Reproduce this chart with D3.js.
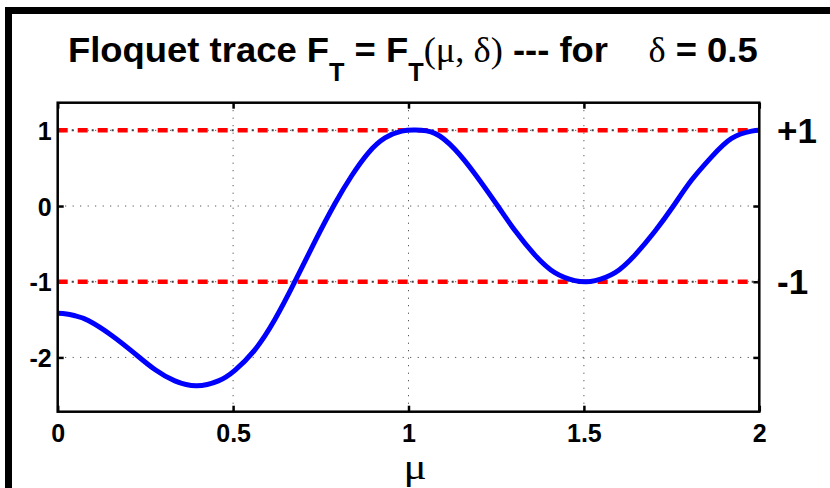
<!DOCTYPE html>
<html><head><meta charset="utf-8">
<script src="https://cdn.jsdelivr.net/npm/d3@7"></script>
<style>
html,body{margin:0;padding:0;background:#fff;}
svg{display:block;}
text{white-space:pre;}
</style></head>
<body>
<script>
// ---- data ----
const mu = [0, 0.025, 0.05, 0.087, 0.154, 0.22, 0.277, 0.334, 0.396, 0.458, 0.505, 0.562, 0.619, 0.676, 0.733, 0.79, 0.838, 0.885, 0.933, 0.981, 1.02, 1.075, 1.132, 1.19, 1.256, 1.303, 1.36, 1.417, 1.474, 1.505, 1.532, 1.589, 1.646, 1.703, 1.755, 1.807, 1.864, 1.921, 1.978, 2];
const FT = [-1.418, -1.426, -1.45, -1.513, -1.71, -1.95, -2.16, -2.31, -2.375, -2.31, -2.17, -1.90, -1.50, -1.0, -0.47, 0.03, 0.40, 0.70, 0.90, 0.99, 1.003, 0.96, 0.75, 0.42, -0.01, -0.32, -0.645, -0.88, -0.985, -1.0, -0.985, -0.88, -0.645, -0.33, 0, 0.343, 0.65, 0.894, 0.99, 1.0];
const xTicks = [0, 0.5, 1, 1.5, 2];
const xTickLabels = ["0", "0.5", "1", "1.5", "2"];
const yTicks = [-2, -1, 0, 1];
const yTickLabels = ["-2", "-1", "0", "1"];
const refLevels = [1, -1];
const refLabels = ["+1", "-1"];
const xDomain = [0, 2];
const yDomain = [-2.717, 1.365];

const W = 830, H = 488;
const svg = d3.select("body").append("svg").attr("width", W).attr("height", H);

// figure frame (top and left edges visible)
svg.append("rect").attr("x", 5).attr("y", 7).attr("width", W - 5).attr("height", 7).attr("fill", "#000");
svg.append("rect").attr("x", 5).attr("y", 7).attr("width", 7).attr("height", H - 7).attr("fill", "#000");

const L = 57.7, R = 759.3, T = 102.7, B = 411.7;
const x = d3.scaleLinear().domain(xDomain).range([L, R]);
const y = d3.scaleLinear().domain(yDomain).range([B, T]);

const sans = "'Liberation Sans', Arial, Helvetica, sans-serif";
const serif = "'Liberation Serif', 'Times New Roman', serif";

// grid
const grid = svg.append("g").attr("stroke", "#333").attr("stroke-width", 1).attr("stroke-dasharray", "1,6.5");
grid.selectAll("line.gy").data(yTicks).join("line")
  .attr("x1", L).attr("x2", R).attr("y1", d => y(d)).attr("y2", d => y(d));
grid.selectAll("line.gx").data(xTicks.slice(1, -1)).join("line")
  .attr("y1", T).attr("y2", B).attr("x1", d => x(d)).attr("x2", d => x(d));

// axes using d3 axes (inward ticks)
const tickLen = 6;
const axB = d3.axisBottom(x).tickValues(xTicks).tickSize(-tickLen).tickFormat((d, i) => xTickLabels[i]);
const axT = d3.axisTop(x).tickValues(xTicks).tickSize(-tickLen).tickFormat("");
const axL = d3.axisLeft(y).tickValues(yTicks).tickSize(-tickLen).tickFormat((d, i) => yTickLabels[i]);
const axR = d3.axisRight(y).tickValues(yTicks).tickSize(-tickLen).tickFormat("");

function styleAxis(g) {
  g.select(".domain").remove();
  g.selectAll(".tick line").attr("stroke", "#000").attr("stroke-width", 2.5);
  g.selectAll(".tick text").attr("fill", "#000").attr("font-family", sans).attr("font-weight", "bold").attr("font-size", 25);
}
const gB = svg.append("g").attr("transform", `translate(0,${B})`).call(axB).call(styleAxis);
gB.selectAll(".tick text").attr("y", 0).attr("dy", 0).attr("transform", "translate(0,30)");
svg.append("g").attr("transform", `translate(0,${T})`).call(axT).call(styleAxis);
const gL = svg.append("g").attr("transform", `translate(${L},0)`).call(axL).call(styleAxis);
gL.selectAll(".tick text").attr("x", -6).attr("dy", "0.36em");
svg.append("g").attr("transform", `translate(${R},0)`).call(axR).call(styleAxis);

// reference lines
const refG = svg.append("g");
refG.selectAll("line.red").data(refLevels).join("line")
  .attr("x1", L).attr("x2", R).attr("y1", d => y(d)).attr("y2", d => y(d))
  .attr("stroke", "#ff0000").attr("stroke-width", 4.5).attr("stroke-dasharray", "10,10");
refG.selectAll("line.dot").data(refLevels).join("line")
  .attr("x1", L).attr("x2", R).attr("y1", d => y(d)).attr("y2", d => y(d))
  .attr("stroke", "#444").attr("stroke-width", 2).attr("stroke-dasharray", "2,18").attr("stroke-dashoffset", -14);

// curve
svg.append("defs").append("clipPath").attr("id", "clip").append("rect")
  .attr("x", L).attr("y", T).attr("width", R - L).attr("height", B - T);
const line = d3.line().x((d, i) => x(mu[i])).y((d, i) => y(FT[i])).curve(d3.curveNatural);
svg.append("path").datum(FT).attr("d", line).attr("fill", "none")
  .attr("stroke", "#0000ff").attr("stroke-width", 5).attr("stroke-linejoin", "round").attr("clip-path", "url(#clip)");

// axes box
svg.append("rect").attr("x", L).attr("y", T).attr("width", R - L).attr("height", B - T)
  .attr("fill", "none").attr("stroke", "#000").attr("stroke-width", 2.5);

// right-hand labels
svg.selectAll("text.ref").data(refLevels).join("text")
  .attr("x", 777).attr("y", d => y(d)).attr("dy", "0.36em")
  .attr("font-family", sans).attr("font-weight", "bold").attr("font-size", 35).attr("fill", "#000")
  .text((d, i) => refLabels[i]);

// x label
svg.append("text").attr("x", 0).attr("y", 0).attr("text-anchor", "middle")
  .attr("transform", "translate(415,479) scale(1.2,1)")
  .attr("font-family", serif).attr("font-size", 36).attr("fill", "#000").text("μ");

// title
const title = svg.append("text").attr("x", 68).attr("y", 62)
  .attr("font-family", sans).attr("font-weight", "bold").attr("font-size", 36).attr("fill", "#000");
title.append("tspan").text("Floquet trace F");
title.append("tspan").attr("dy", 19).attr("font-size", 25).text("T");
title.append("tspan").attr("dy", -19).text(" = F");
title.append("tspan").attr("dy", 19).attr("font-size", 25).text("T");
title.append("tspan").attr("dy", -19).attr("font-family", serif).attr("font-weight", "normal").text("(μ, δ)");
title.append("tspan").text(" --- for    ");
title.append("tspan").attr("font-family", serif).attr("font-weight", "normal").text("δ");
title.append("tspan").text(" = 0.5");
const tw = title.node().getComputedTextLength();
const target = 758 - 68;
title.attr("transform", `translate(68,0) scale(${target / tw},1) translate(-68,0)`);
</script>
</body></html>
